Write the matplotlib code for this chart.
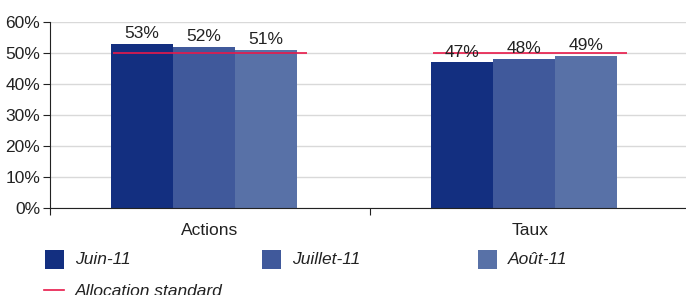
import matplotlib
matplotlib.use("Agg")
import matplotlib.pyplot as plt
import numpy as np
from matplotlib.patches import Rectangle
from matplotlib.lines import Line2D

categories = ["Actions", "Taux"]
series_names = ["Juin-11", "Juillet-11", "Août-11"]
values = {
    "Juin-11": [53, 47],
    "Juillet-11": [52, 48],
    "Août-11": [51, 49],
}
standard_allocation = [50, 50]
yticks = [0, 10, 20, 30, 40, 50, 60]

colors = ["#132F80", "#40599B", "#5871A7"]
red = "#E8194A"

plt.rcParams['font.family'] = ['Liberation Sans', 'DejaVu Sans']

W, H = 686, 295
fig = plt.figure(figsize=(W / 100, H / 100), dpi=100)
left_px, right_px, top_px, bot_px = 50, 690, 22, 208
ax = fig.add_axes([left_px / W, (H - bot_px) / H, (right_px - left_px) / W, (bot_px - top_px) / H])

x = np.arange(len(categories))
w = 62 / 320
shift = -0.02
for i, name in enumerate(series_names):
    xs = x + (i - 1) * w + shift
    ax.bar(xs, values[name], width=w, color=colors[i], zorder=2)
    for xi, v in zip(xs, values[name]):
        ax.text(xi, v + 0.9, f"{v}%", ha="center", va="bottom", fontsize=12.5, color="#222222", zorder=4)

for xi, s in zip(x, standard_allocation):
    ax.hlines(s, xi - 0.303, xi + 0.303, color=red, lw=1.2, zorder=3)

ax.set_xlim(-0.5, 1.5)
ax.set_ylim(0, 60)
ax.set_yticks(yticks)
ax.set_yticklabels([f"{t}%" for t in yticks], fontsize=12.5, color="#222222")
ax.yaxis.grid(True, color="#D9D9D9", lw=1)
ax.set_axisbelow(True)

ax.set_xticks([-0.5, 0.5, 1.5])
ax.set_xticklabels([])
ax.set_xticks(x, minor=True)
ax.set_xticklabels(categories, minor=True, fontsize=12.5, color="#222222")
ax.tick_params(axis="x", which="minor", length=0, pad=11)
ax.tick_params(axis="x", which="major", length=5, direction="out", color="#222222")
ax.tick_params(axis="y", length=5, direction="out", color="#222222", pad=2)

for sp in ["top", "right"]:
    ax.spines[sp].set_visible(False)
ax.spines["left"].set_color("#222222")
ax.spines["bottom"].set_color("#222222")

# Legend drawn manually
def fx(px):
    return px / W

def fy(py):
    return (H - py) / H

legend_x = [45, 262, 478]
for i, name in enumerate(series_names):
    lx = legend_x[i]
    fig.add_artist(Rectangle((fx(lx), fy(269)), 19 / W, 19 / H, transform=fig.transFigure,
                             facecolor=colors[i], edgecolor="none"))
    fig.text(fx(lx + 30), fy(260), name, fontsize=12.5, style="italic", va="center", ha="left", color="#222222")

fig.add_artist(Line2D([fx(44), fx(64)], [fy(290), fy(290)], transform=fig.transFigure, color=red, lw=1.2))
fig.text(fx(75), fy(291), "Allocation standard", fontsize=12.5, style="italic", va="center", ha="left", color="#222222")

fig.savefig("out.png", dpi=100)
